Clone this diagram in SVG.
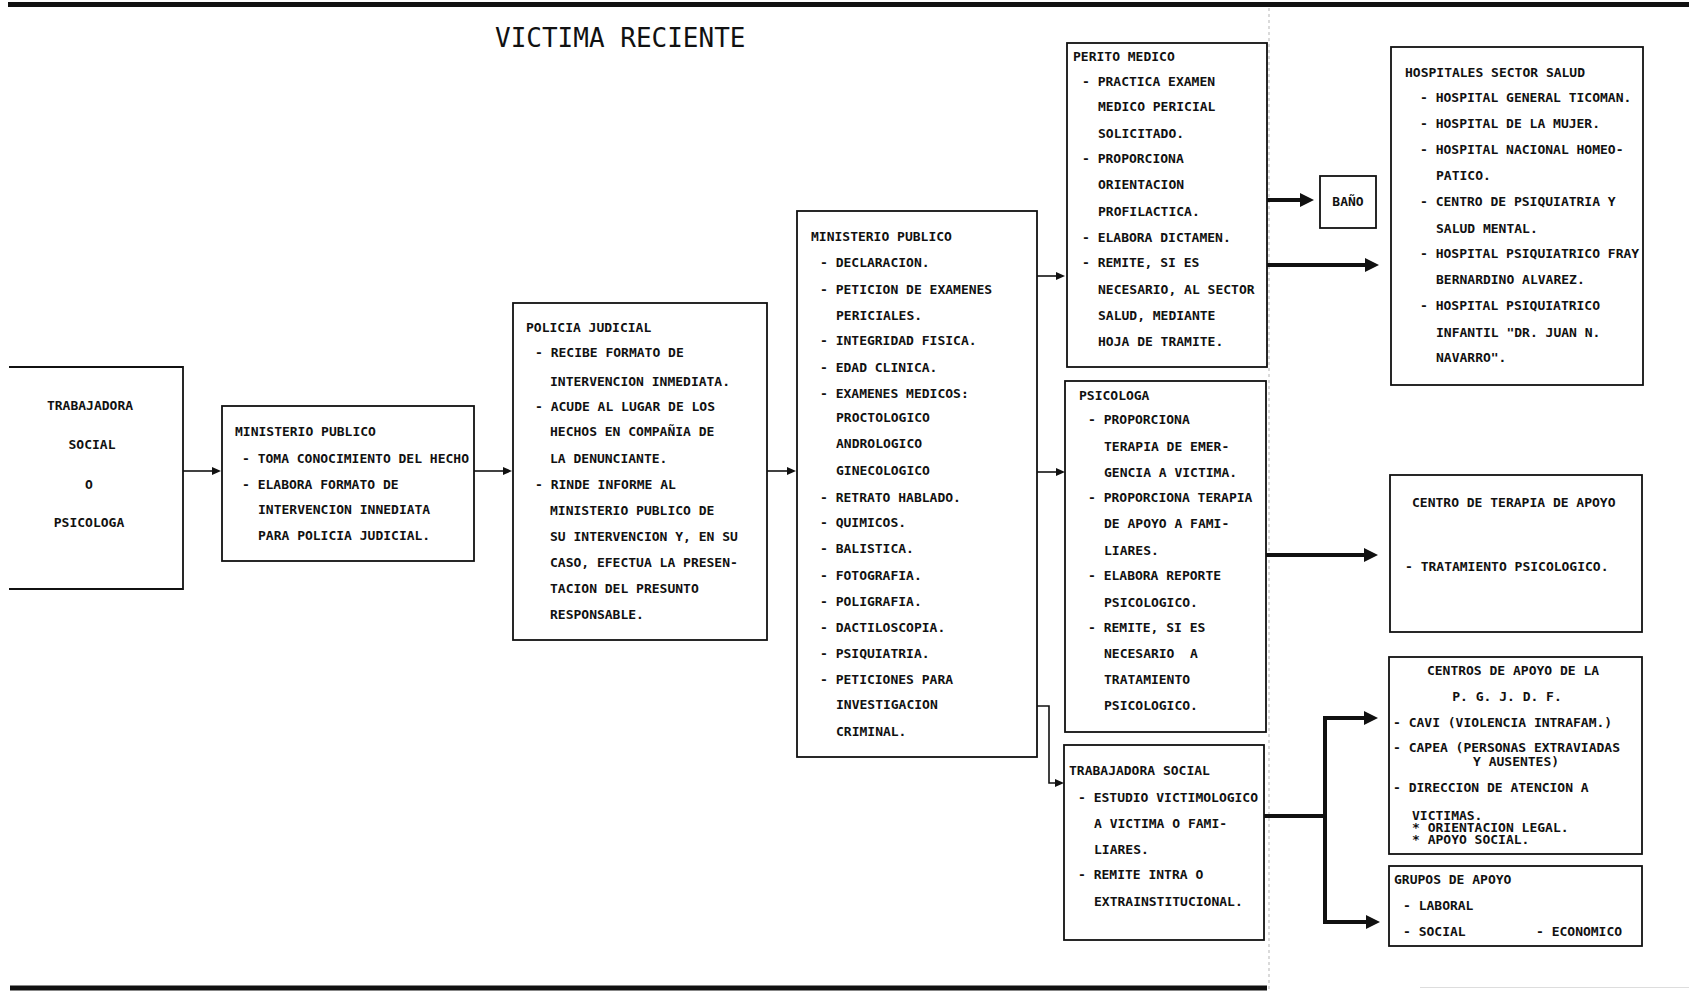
<svg xmlns="http://www.w3.org/2000/svg" width="1689" height="992" viewBox="0 0 1689 992">
  <style>
    .bg { fill: #ffffff; }
    .box { fill: none; stroke: #111; stroke-width: 1.8; }
    .t { font-family: "DejaVu Sans Mono", "Liberation Mono", monospace; font-weight: bold; font-size: 13px; fill: #111; }
    .tc { text-anchor: middle; }
    .title { font-family: "DejaVu Sans Mono", "Liberation Mono", monospace; font-size: 26px; fill: #111; }
    .thin { fill: none; stroke: #111; stroke-width: 1.6; marker-end: url(#ah); }
    .thick { fill: none; stroke: #111; stroke-width: 4; stroke-linejoin: miter; marker-end: url(#ahb); }
    .rule { stroke: #111; stroke-width: 5; }
    .edge { stroke: #b5b5b5; stroke-width: 1; stroke-dasharray: 3 3; }
  </style>
  <defs>
    <marker id="ah" markerUnits="userSpaceOnUse" viewBox="0 -5 9 10" markerWidth="9" markerHeight="10" refX="1" refY="0" orient="auto">
      <path d="M0,-4 L9,0 L0,4 z" fill="#111"/>
    </marker>
    <marker id="ahb" markerUnits="userSpaceOnUse" viewBox="0 -8 14 16" markerWidth="14" markerHeight="16" refX="2" refY="0" orient="auto-start-reverse">
      <path d="M0,-7 L14,0 L0,7 z" fill="#111"/>
    </marker>
  </defs>

  <rect class="bg" x="0" y="0" width="1689" height="992"/>

  <!-- page rules and edge -->
  <g id="page">
    <line class="rule" x1="8" y1="4.5" x2="1689" y2="4.5"/>
    <line class="rule" x1="10" y1="988" x2="1267" y2="988"/>
    <line x1="1420" y1="987.5" x2="1689" y2="987.5" stroke="#dddddd" stroke-width="1"/>
    <line class="edge" x1="1269" y1="8" x2="1269" y2="990"/>
  </g>

  <text class="title" x="495" y="47">VICTIMA RECIENTE</text>

  <g id="n-trabajadora">
    <path class="box" d="M9,367 H183 V589 H9"/>
    <text class="t tc" x="90" y="410">TRABAJADORA</text>
    <text class="t tc" x="92" y="449">SOCIAL</text>
    <text class="t tc" x="89" y="489">O</text>
    <text class="t tc" x="89" y="527">PSICOLOGA</text>
  </g>

  <g id="n-mp1">
    <rect class="box" x="222" y="406" width="252" height="155"/>
    <text class="t" x="235" y="436">MINISTERIO PUBLICO</text>
    <text class="t" x="242" y="463">- TOMA CONOCIMIENTO DEL HECHO</text>
    <text class="t" x="242" y="489">- ELABORA FORMATO DE</text>
    <text class="t" x="258" y="514">INTERVENCION INNEDIATA</text>
    <text class="t" x="258" y="540">PARA POLICIA JUDICIAL.</text>
  </g>

  <g id="n-policia">
    <rect class="box" x="513" y="303" width="254" height="337"/>
    <text class="t" x="526" y="332">POLICIA JUDICIAL</text>
    <text class="t" x="535" y="357">- RECIBE FORMATO DE</text>
    <text class="t" x="550" y="386">INTERVENCION INMEDIATA.</text>
    <text class="t" x="535" y="411">- ACUDE AL LUGAR DE LOS</text>
    <text class="t" x="550" y="436">HECHOS EN COMPAÑIA DE</text>
    <text class="t" x="550" y="463">LA DENUNCIANTE.</text>
    <text class="t" x="535" y="489">- RINDE INFORME AL</text>
    <text class="t" x="550" y="515">MINISTERIO PUBLICO DE</text>
    <text class="t" x="550" y="541">SU INTERVENCION Y, EN SU</text>
    <text class="t" x="550" y="567">CASO, EFECTUA LA PRESEN-</text>
    <text class="t" x="550" y="593">TACION DEL PRESUNTO</text>
    <text class="t" x="550" y="619">RESPONSABLE.</text>
  </g>

  <g id="n-mp2">
    <rect class="box" x="797" y="211" width="240" height="546"/>
    <text class="t" x="811" y="241">MINISTERIO PUBLICO</text>
    <text class="t" x="820" y="267">- DECLARACION.</text>
    <text class="t" x="820" y="294">- PETICION DE EXAMENES</text>
    <text class="t" x="836" y="320">PERICIALES.</text>
    <text class="t" x="820" y="345">- INTEGRIDAD FISICA.</text>
    <text class="t" x="820" y="372">- EDAD CLINICA.</text>
    <text class="t" x="820" y="398">- EXAMENES MEDICOS:</text>
    <text class="t" x="836" y="422">PROCTOLOGICO</text>
    <text class="t" x="836" y="448">ANDROLOGICO</text>
    <text class="t" x="836" y="475">GINECOLOGICO</text>
    <text class="t" x="820" y="502">- RETRATO HABLADO.</text>
    <text class="t" x="820" y="527">- QUIMICOS.</text>
    <text class="t" x="820" y="553">- BALISTICA.</text>
    <text class="t" x="820" y="580">- FOTOGRAFIA.</text>
    <text class="t" x="820" y="606">- POLIGRAFIA.</text>
    <text class="t" x="820" y="632">- DACTILOSCOPIA.</text>
    <text class="t" x="820" y="658">- PSIQUIATRIA.</text>
    <text class="t" x="820" y="684">- PETICIONES PARA</text>
    <text class="t" x="836" y="709">INVESTIGACION</text>
    <text class="t" x="836" y="736">CRIMINAL.</text>
  </g>

  <g id="n-perito">
    <rect class="box" x="1067" y="43" width="200" height="324"/>
    <text class="t" x="1073" y="61">PERITO MEDICO</text>
    <text class="t" x="1082" y="86">- PRACTICA EXAMEN</text>
    <text class="t" x="1098" y="111">MEDICO PERICIAL</text>
    <text class="t" x="1098" y="138">SOLICITADO.</text>
    <text class="t" x="1082" y="163">- PROPORCIONA</text>
    <text class="t" x="1098" y="189">ORIENTACION</text>
    <text class="t" x="1098" y="216">PROFILACTICA.</text>
    <text class="t" x="1082" y="242">- ELABORA DICTAMEN.</text>
    <text class="t" x="1082" y="267">- REMITE, SI ES</text>
    <text class="t" x="1098" y="294">NECESARIO, AL SECTOR</text>
    <text class="t" x="1098" y="320">SALUD, MEDIANTE</text>
    <text class="t" x="1098" y="346">HOJA DE TRAMITE.</text>
  </g>

  <g id="n-psicologa">
    <rect class="box" x="1065" y="381" width="201" height="351"/>
    <text class="t" x="1079" y="400">PSICOLOGA</text>
    <text class="t" x="1088" y="424">- PROPORCIONA</text>
    <text class="t" x="1104" y="451">TERAPIA DE EMER-</text>
    <text class="t" x="1104" y="477">GENCIA A VICTIMA.</text>
    <text class="t" x="1088" y="502">- PROPORCIONA TERAPIA</text>
    <text class="t" x="1104" y="528">DE APOYO A FAMI-</text>
    <text class="t" x="1104" y="555">LIARES.</text>
    <text class="t" x="1088" y="580">- ELABORA REPORTE</text>
    <text class="t" x="1104" y="607">PSICOLOGICO.</text>
    <text class="t" x="1088" y="632">- REMITE, SI ES</text>
    <text class="t" x="1104" y="658" xml:space="preserve">NECESARIO  A</text>
    <text class="t" x="1104" y="684">TRATAMIENTO</text>
    <text class="t" x="1104" y="710">PSICOLOGICO.</text>
  </g>

  <g id="n-tsocial">
    <rect class="box" x="1064" y="745" width="200" height="195"/>
    <text class="t" x="1069" y="775">TRABAJADORA SOCIAL</text>
    <text class="t" x="1078" y="802">- ESTUDIO VICTIMOLOGICO</text>
    <text class="t" x="1094" y="828">A VICTIMA O FAMI-</text>
    <text class="t" x="1094" y="854">LIARES.</text>
    <text class="t" x="1078" y="879">- REMITE INTRA O</text>
    <text class="t" x="1094" y="906">EXTRAINSTITUCIONAL.</text>
  </g>

  <g id="n-bano">
    <rect class="box" x="1320" y="176" width="56" height="52"/>
    <text class="t tc" x="1348" y="206">BAÑO</text>
  </g>

  <g id="n-hospitales">
    <rect class="box" x="1391" y="47" width="252" height="338"/>
    <text class="t" x="1405" y="77">HOSPITALES SECTOR SALUD</text>
    <text class="t" x="1420" y="102">- HOSPITAL GENERAL TICOMAN.</text>
    <text class="t" x="1420" y="128">- HOSPITAL DE LA MUJER.</text>
    <text class="t" x="1420" y="154">- HOSPITAL NACIONAL HOMEO-</text>
    <text class="t" x="1436" y="180">PATICO.</text>
    <text class="t" x="1420" y="206">- CENTRO DE PSIQUIATRIA Y</text>
    <text class="t" x="1436" y="233">SALUD MENTAL.</text>
    <text class="t" x="1420" y="258">- HOSPITAL PSIQUIATRICO FRAY</text>
    <text class="t" x="1436" y="284">BERNARDINO ALVAREZ.</text>
    <text class="t" x="1420" y="310">- HOSPITAL PSIQUIATRICO</text>
    <text class="t" x="1436" y="337">INFANTIL "DR. JUAN N.</text>
    <text class="t" x="1436" y="362">NAVARRO".</text>
  </g>

  <g id="n-terapia">
    <rect class="box" x="1390" y="475" width="252" height="157"/>
    <text class="t" x="1412" y="507">CENTRO DE TERAPIA DE APOYO</text>
    <text class="t" x="1405" y="571">- TRATAMIENTO PSICOLOGICO.</text>
  </g>

  <g id="n-centros">
    <rect class="box" x="1389" y="657" width="253" height="197"/>
    <text class="t tc" x="1513" y="675">CENTROS DE APOYO DE LA</text>
    <text class="t tc" x="1507" y="701">P. G. J. D. F.</text>
    <text class="t" x="1393" y="727">- CAVI (VIOLENCIA INTRAFAM.)</text>
    <text class="t" x="1393" y="752">- CAPEA (PERSONAS EXTRAVIADAS</text>
    <text class="t" x="1473" y="766">Y AUSENTES)</text>
    <text class="t" x="1393" y="792">- DIRECCION DE ATENCION A</text>
    <text class="t" x="1412" y="820">VICTIMAS.</text>
    <text class="t" x="1412" y="832">* ORIENTACION LEGAL.</text>
    <text class="t" x="1412" y="844">* APOYO SOCIAL.</text>
  </g>

  <g id="n-grupos">
    <rect class="box" x="1389" y="866" width="253" height="80"/>
    <text class="t" x="1394" y="884">GRUPOS DE APOYO</text>
    <text class="t" x="1403" y="910">- LABORAL</text>
    <text class="t" x="1403" y="936">- SOCIAL</text>
    <text class="t" x="1536" y="936">- ECONOMICO</text>
  </g>

  <g id="connectors">
    <path class="thin" d="M183,471 H213"/>
    <path class="thin" d="M474,471 H504"/>
    <path class="thin" d="M767,471 H788"/>
    <path class="thin" d="M1037,276 H1057"/>
    <path class="thin" d="M1037,472 H1057"/>
    <path class="thin" d="M1037,706 H1049 V783 H1056"/>
    <path class="thick" d="M1267,200 H1302"/>
    <path class="thick" d="M1267,265 H1367"/>
    <path class="thick" d="M1266,555 H1366"/>
    <path class="thick" d="M1264,816 H1325" style="marker-end:none"/>
    <path class="thick" d="M1366,718 H1325 V922 H1368" style="marker-start:url(#ahb)"/>
  </g>
</svg>
